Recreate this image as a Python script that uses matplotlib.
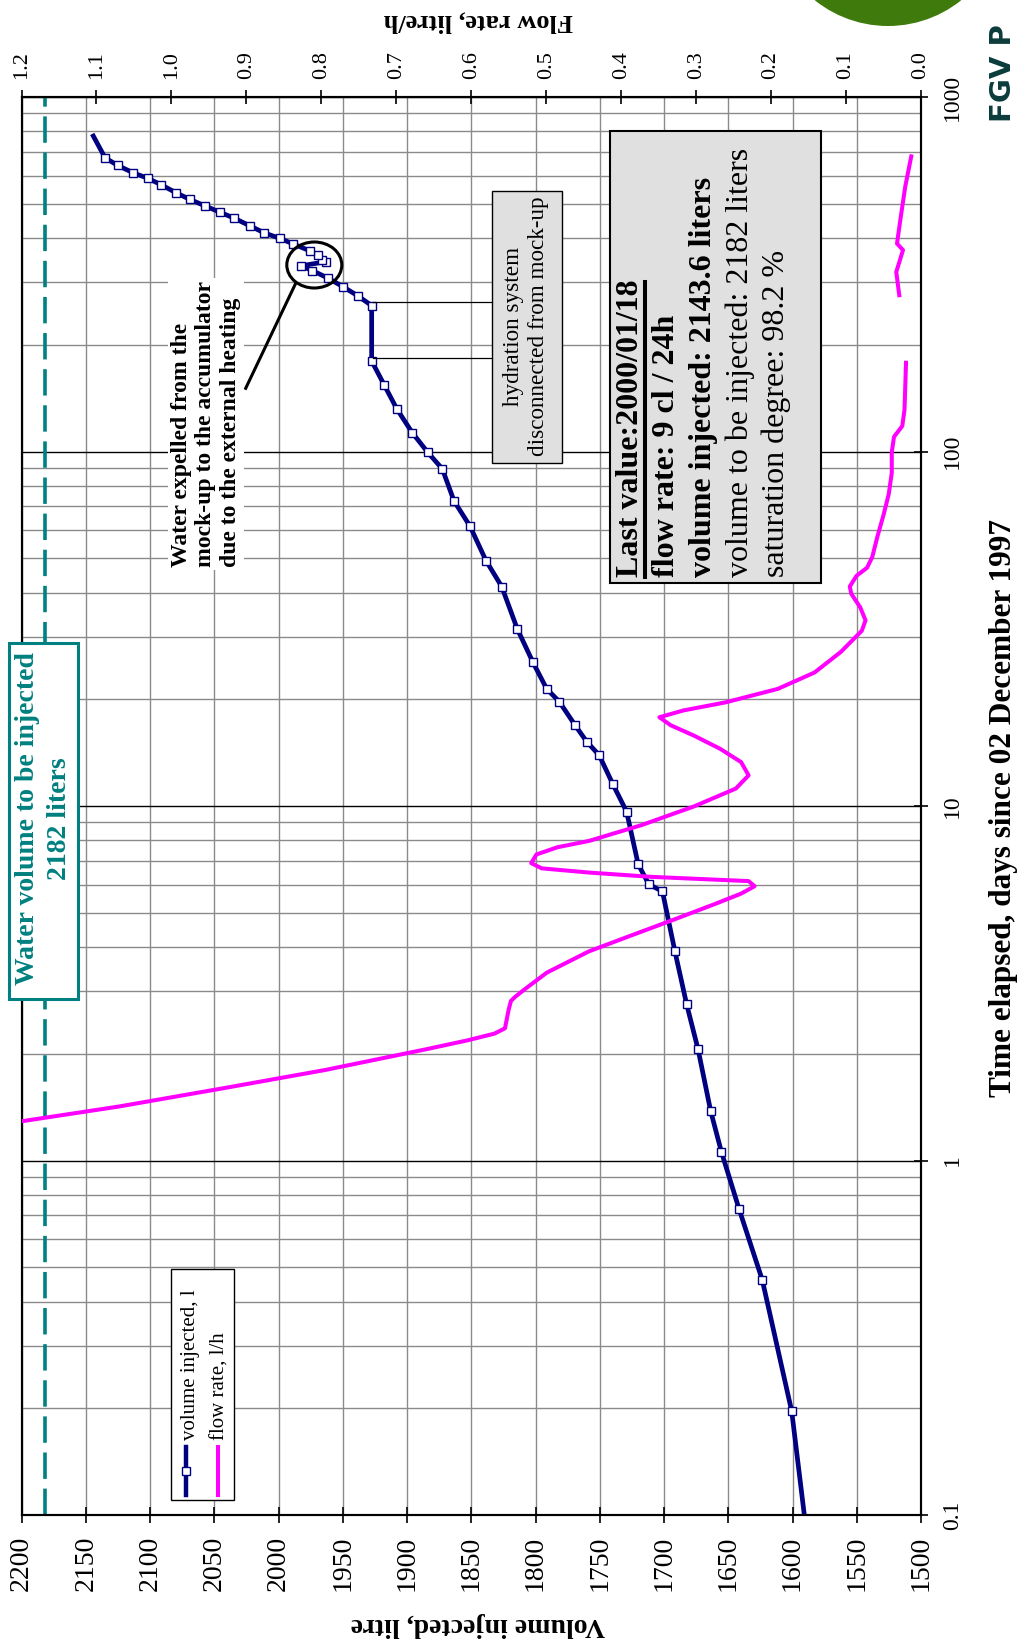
import matplotlib
matplotlib.use('Agg')
import matplotlib.pyplot as plt
import matplotlib.transforms as mtransforms
from matplotlib.patches import Rectangle, Ellipse, Circle
from matplotlib.lines import Line2D
from matplotlib.ticker import LogLocator, NullFormatter
import numpy as np

plt.rcParams['font.family'] = ['Liberation Serif', 'DejaVu Serif']
plt.rcParams['lines.scale_dashes'] = False

# ---------------- data ----------------
vol_days = [0.1, 0.196, 0.46, 0.73, 1.06, 1.38, 2.06, 2.76, 3.89, 5.74, 6.02, 6.85,
            9.64, 11.5, 13.9, 15.2, 16.9, 19.7, 21.4, 25.4, 31.6, 41.6, 49.2, 61.6,
            72.5, 89.3, 99.5, 113, 132, 154, 180, 258, 275, 292, 308, 324, 334, 343,
            348, 358, 368, 385, 399, 414, 433, 455, 473, 493, 514, 537, 565, 590,
            611, 641, 674, 776]
vol_litre = [1590.8, 1600.6, 1623.5, 1641.6, 1655.4, 1663.7, 1673.5, 1682.4, 1691.5,
             1701.2, 1711.9, 1720.1, 1729.1, 1739.7, 1750.4, 1760.2, 1769.2, 1781.5,
             1791.3, 1801.9, 1814.2, 1826.3, 1838.5, 1851.0, 1863.4, 1872.5, 1883.9,
             1895.9, 1908.0, 1917.7, 1927.5, 1927.5, 1938.4, 1950.0, 1961.3, 1973.7,
             1982.7, 1963.0, 1965.9, 1969.0, 1975.5, 1988.5, 1998.8, 2011.3, 2022.2,
             2034.4, 2045.5, 2057.2, 2068.9, 2079.8, 2091.1, 2101.8, 2113.0, 2125.1,
             2135.0, 2144.1]

flow_days = [1.29, 1.42, 1.60, 1.80, 2.06, 2.18, 2.28, 2.36, 2.67, 2.82, 2.90, 3.06,
             3.39, 3.89, 4.31, 4.77, 5.29, 5.66, 5.94, 6.14, 6.31, 6.49, 6.67, 6.90,
             7.30, 7.65, 7.97, 8.83, 9.97, 11.2, 12.2, 13.3, 14.5, 15.8, 16.9, 17.8,
             18.6, 19.6, 21.4, 23.8, 27.2, 31.2, 33.4, 36.3, 39.7, 41.6, 44.6, 47.0,
             50.4, 57.7, 66.2, 75.9, 87.0, 99.6, 110, 118, 131, 178,
             np.nan,
             276, 321, 370, 386, 459, 559, 680]
flow_rate = [1.200, 1.070, 0.930, 0.795, 0.660, 0.606, 0.569, 0.555, 0.550, 0.547,
             0.541, 0.527, 0.499, 0.443, 0.387, 0.331, 0.275, 0.240, 0.222, 0.230,
             0.359, 0.443, 0.506, 0.520, 0.513, 0.485, 0.443, 0.373, 0.303, 0.247,
             0.230, 0.240, 0.268, 0.303, 0.334, 0.349, 0.317, 0.261, 0.191, 0.142,
             0.107, 0.079, 0.074, 0.081, 0.093, 0.095, 0.086, 0.072, 0.065, 0.058,
             0.050, 0.043, 0.039, 0.039, 0.036, 0.025, 0.022, 0.020,
             np.nan,
             0.029, 0.033, 0.024, 0.032, 0.027, 0.021, 0.013]

volume_ticks = [1500, 1550, 1600, 1650, 1700, 1750, 1800, 1850, 1900, 1950,
                2000, 2050, 2100, 2150, 2200]
volume_tick_labels = [str(v) for v in volume_ticks]
flow_ticks = [0.0, 0.1, 0.2, 0.3, 0.4, 0.5, 0.6, 0.7, 0.8, 0.9, 1.0, 1.1, 1.2]
flow_tick_labels = ['0.0', '0.1', '0.2', '0.3', '0.4', '0.5', '0.6', '0.7', '0.8',
                    '0.9', '1.0', '1.1', '1.2']
time_ticks = [0.1, 1, 10, 100, 1000]
time_tick_labels = ['0.1', '1', '10', '100', '1000']
target_volume = 2182

# ---------------- figure ----------------
W, H = 1022, 1648
fig = plt.figure(figsize=(W / 100, H / 100), dpi=100)
fig.patch.set_facecolor('white')
PX = mtransforms.Affine2D().scale(1 / W, -1 / H).translate(0, 1) + fig.transFigure

L, R, T, B = 21.5, 921, 97, 1515
ax = fig.add_axes([L / W, 1 - B / H, (R - L) / W, (B - T) / H])
ax.set_yscale('log')
ax.set_ylim(0.1, 1000)
ax.set_xlim(2200, 1500)
ax.set_xticks(volume_ticks)
ax.set_xticklabels(volume_tick_labels)
ax.set_yticks(time_ticks)
ax.set_yticklabels(time_tick_labels)
ax.yaxis.set_minor_locator(LogLocator(base=10, subs=np.arange(2, 10)))
ax.yaxis.set_minor_formatter(NullFormatter())
ax.yaxis.tick_right()

ax.grid(True, axis='x', which='major', color='#8a8a8a', lw=1.0)
ax.grid(True, axis='y', which='major', color='black', lw=1.0)
ax.grid(True, axis='y', which='minor', color='#8a8a8a', lw=1.0)
ax.set_axisbelow(True)

ax.axvline(target_volume, color='#008080', lw=2.6, dashes=(19, 7), zorder=2)

ax.plot(vol_litre, vol_days, color='#000080', lw=3.4, marker='s', ms=5.5,
        mfc='white', mec='#000080', mew=1.0,
        markevery=list(range(1, len(vol_days) - 1)), zorder=3)

ax2 = ax.twiny()
ax2.set_xlim(1.2, 0)
ax2.set_xticks(flow_ticks)
ax2.set_xticklabels(flow_tick_labels)
ax2.plot(flow_rate, flow_days, color='#ff00ff', lw=2.9, zorder=3)

for a in (ax, ax2):
    for s in a.spines.values():
        s.set_linewidth(1.5)

ax.tick_params(axis='x', which='major', direction='inout', length=12, width=1.2,
               labelsize=20, labelrotation=90, pad=9, top=False)
ax.tick_params(axis='y', which='major', direction='inout', length=10, width=1.2,
               labelsize=17, labelrotation=90, pad=10, left=False, right=True)
ax.tick_params(axis='y', which='minor', length=0, left=False, right=False)
ax2.tick_params(axis='x', direction='inout', length=10, width=1.2,
                labelsize=16, labelrotation=90, pad=8)
for t in ax.get_yticklabels():
    t.set_va('center')

# ---------------- axis titles ----------------
fig.text(478, 21, 'Flow rate, litre/h', transform=PX, rotation=180, ha='center',
         va='center', fontsize=19, fontweight='bold')
fig.text(478, 1625, 'Volume injected, litre', transform=PX, rotation=180, ha='center',
         va='center', fontsize=20, fontweight='bold')
fig.text(1004, 808, 'Time elapsed, days since 02 December 1997', transform=PX,
         rotation=90, ha='center', va='center', fontsize=22.5, fontweight='bold')

# ---------------- annotations ----------------
teal = '#008080'
fig.add_artist(Rectangle((9, 643), 69, 356, transform=PX, fc='white', ec=teal, lw=2.2))
fig.text(43.5, 819, 'Water volume to be injected\n2182 liters', transform=PX, rotation=90,
         ha='center', va='center', multialignment='center', fontsize=20,
         fontweight='bold', color=teal, linespacing=1.35)

fig.add_artist(Rectangle((492.3, 190.7), 70, 272.6, transform=PX, fc='#e0e0e0',
                         ec='black', lw=1.0))
fig.text(526, 326, 'hydration system\ndisconnected from mock-up', transform=PX,
         rotation=90, ha='center', va='center', multialignment='center', fontsize=16.7,
         linespacing=1.3)
fig.add_artist(Line2D([373, 492], [301.7, 301.7], transform=PX, color='black', lw=0.9))
fig.add_artist(Line2D([373, 492], [358.3, 358.3], transform=PX, color='black', lw=0.9))

fig.text(206, 567, 'Water expelled from the\nmock-up to the accumulator\ndue to the external heating',
         transform=PX, rotation=90, rotation_mode='anchor', ha='left', va='center',
         multialignment='left', fontsize=17, fontweight='bold', linespacing=1.2,
         bbox=dict(fc='white', ec='none', pad=2))
fig.add_artist(Ellipse((314.3, 265), 55, 46, transform=PX, fc='none', ec='black', lw=2.2))
fig.add_artist(Line2D([295.7, 245.7], [283.3, 388.3], transform=PX, color='black', lw=2.2))

# last value box
fig.add_artist(Rectangle((610, 131), 210.7, 451.7, transform=PX, fc='#e0e0e0',
                         ec='black', lw=1.5))
lines = [('Last value:2000/01/18', 'bold', 630.7),
         ('flow rate: 9 cl / 24h', 'bold', 666.7),
         ('volume injected: 2143.6 liters', 'bold', 703.3),
         ('volume to be injected: 2182 liters', 'normal', 740),
         ('saturation degree: 98.2 %', 'normal', 776.7)]
for txt, wgt, xc in lines:
    fig.text(xc, 577, txt, transform=PX, rotation=90, rotation_mode='anchor', ha='left',
             va='center', fontsize=23, fontweight=wgt)
fig.add_artist(Line2D([644.5, 644.5], [577, 281.7], transform=PX, color='black', lw=2.9))

# legend
fig.add_artist(Rectangle((170.5, 1269), 63.5, 231, transform=PX, fc='white',
                         ec='black', lw=1.0))
fig.add_artist(Line2D([186, 186], [1446.7, 1495], transform=PX, color='#000080', lw=3.2))
fig.add_artist(Line2D([186], [1470.7], transform=PX, marker='s', ms=5.5, mfc='white',
                      mec='#000080', mew=1.0, ls='none'))
fig.add_artist(Line2D([218.3, 218.3], [1446.7, 1495], transform=PX, color='#ff00ff', lw=2.9))
fig.text(190, 1440, 'volume injected, l', transform=PX, rotation=90, rotation_mode='anchor',
         ha='left', va='center', fontsize=15)
fig.text(220, 1440, 'flow rate, l/h', transform=PX, rotation=90, rotation_mode='anchor',
         ha='left', va='center', fontsize=15)

# logo fragments
fig.add_artist(Circle((888, -91), 117, transform=PX, fc='#3f7a0c', ec='none'))
fig.text(1003, 122, 'FGV P', transform=PX, rotation=90, rotation_mode='anchor', ha='left',
         va='center', fontsize=21, fontweight='bold', color='#0b3b3b',
         family=['DejaVu Sans'])

fig.savefig('out.png', dpi=100, facecolor='white')
